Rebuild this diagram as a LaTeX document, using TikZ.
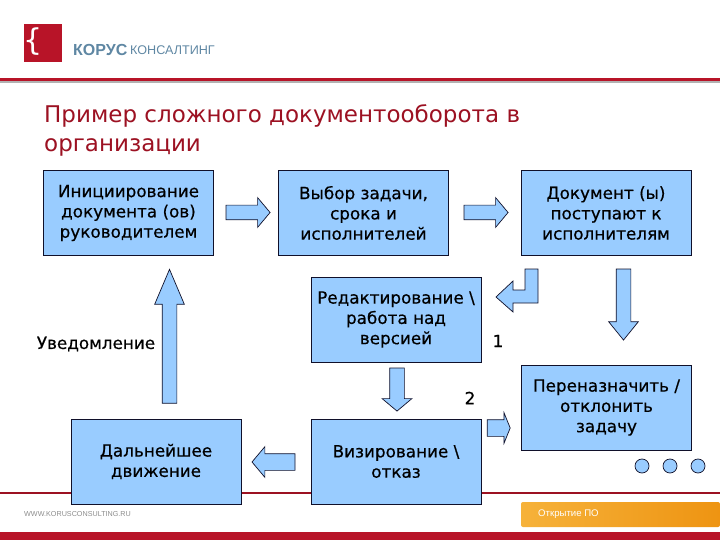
\documentclass[tikz,border=0pt]{standalone}
\usepackage{fontspec}
\setmainfont{DejaVu Sans}
\newfontfamily\logofont{Liberation Sans}
\newfontfamily\boxfont[FakeBold=0.5]{DejaVu Sans}
\usepackage{xcolor}
\usetikzlibrary{shapes.arrows}
\definecolor{korusred}{HTML}{B81428}
\definecolor{boxblue}{HTML}{99CCFF}
\definecolor{logoblue}{HTML}{5F87A3}
\definecolor{bandlight}{HTML}{F6B23A}
\definecolor{banddark}{HTML}{EE9412}
\definecolor{edge}{HTML}{10102A}

\begin{document}
\begin{tikzpicture}[
  x=1pt, y=-1pt,
  font=\boxfont\fontsize{16.8}{20.3}\selectfont,
  stepbox/.style={draw=edge, fill=boxblue, line width=0.8pt, minimum width=170pt, minimum height=85pt, align=center, inner sep=0pt, execute at begin node=\vspace*{2.5pt}},
  blockarr/.style={single arrow, draw=edge, fill=boxblue, line width=0.7pt, inner xsep=0pt, inner ysep=7pt, single arrow head extend=7.5pt, minimum height=44pt, single arrow tip angle=100},
  dot/.style={circle, draw=edge, fill=boxblue, line width=0.7pt, minimum size=14pt, inner sep=0pt},
  plain/.style={inner sep=0pt, align=center}
]
  \useasboundingbox (0,0) rectangle (720,540);

  % Header
  \fill[korusred] (24,24) rectangle (62,62);
  \node[plain, text=white, font=\fontsize{30}{30}\selectfont] (brace) at (33,42) {\{};
  \node[plain, anchor=west, text=logoblue, font=\logofont\bfseries\fontsize{16}{16}\selectfont] (korus) at (73,50) {КОРУС};
  \node[plain, anchor=west, text=logoblue, font=\logofont\fontsize{12.6}{12.6}\selectfont] (consult) at (130,50) {КОНСАЛТИНГ};
  \fill[black!30] (0,81) rectangle (720,83);
  \fill[korusred] (0,78) rectangle (720,81);

  \node[plain, anchor=north west, align=left, text=korusred!85!black, font=\fontsize{23}{29}\selectfont] (title) at (44,104) {Пример сложного документооборота в\\организации};

  % Footer
  \fill[korusred!85!black] (0,492) rectangle (720,494);
  \fill[korusred] (0,532) rectangle (720,540);
  \shade[left color=bandlight, right color=banddark, rounded corners=2pt] (521,502) rectangle (720,527);
  \node[plain, anchor=west, text=white, font=\logofont\fontsize{9.6}{9.6}\selectfont] (open) at (538,514.5) {Открытие ПО};
  \node[plain, anchor=west, text=black!45, font=\logofont\fontsize{7.2}{7.2}\selectfont] (www) at (24,514.5) {WWW.KORUSCONSULTING.RU};

  % ROW 1
  \node[stepbox] (init) at (128.5,213) {Инициирование\\документа (ов)\\руководителем};
  \node[stepbox] (choice) at (363.5,213) {Выбор задачи,\\срока и\\исполнителей};
  \node[stepbox] (doc) at (606,213) {Документ (ы)\\поступают к\\исполнителям};

  % ROW 2
  \node[stepbox] (edit) at (396,319.5) {Редактирование \textbackslash\\работа над\\версией};
  \node[stepbox] (reassign) at (606.5,407.5) {Переназначить /\\отклонить\\задачу};

  % ROW 3
  \node[stepbox] (visa) at (396,461.5) {Визирование \textbackslash\\отказ};
  \node[stepbox] (next) at (156,461.5) {Дальнейшее\\движение};

  % Block arrows
  \node[blockarr] (a1) at (245,212.5) {};
  \node[blockarr] (a2) at (483,212.5) {};
  \node[blockarr, rotate=-90, minimum height=71pt, single arrow tip angle=78] (a3) at (623.5,300) {};
  \node[blockarr, rotate=-90, minimum height=43pt, inner ysep=7pt] (a4) at (397,386.5) {};
  \node[blockarr, minimum height=23pt, inner ysep=8pt, single arrow head extend=7pt, single arrow tip angle=136] (a5) at (497,428) {};
  \node[blockarr, rotate=180, minimum height=43pt, inner ysep=8pt, single arrow head extend=7pt] (a6) at (277,462) {};
  \node[blockarr, rotate=90, minimum height=134pt, single arrow tip angle=46] (a7) at (169.5,345) {};

  % Bent arrow
  \draw[draw=edge, fill=boxblue, line width=0.7pt] (496,297) -- (513,281) -- (513,290) -- (525,290) -- (525,269) -- (538,269) -- (538,303) -- (513,303) -- (513,312) -- cycle;

  % Labels
  \node[plain] (notify) at (96,344) {Уведомление};
  \node[plain] (one) at (498,341) {1};
  \node[plain] (two) at (470,398) {2};

  % Dots
  \node[dot] (d1) at (642,466) {};
  \node[dot] (d2) at (670,466) {};
  \node[dot] (d3) at (698,466) {};
\end{tikzpicture}
\end{document}
